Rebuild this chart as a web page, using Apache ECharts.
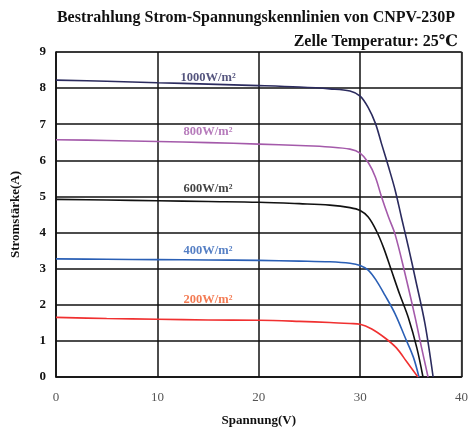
<!DOCTYPE html>
<html><head><meta charset="utf-8">
<script src="https://cdn.jsdelivr.net/npm/echarts@6/dist/echarts.min.js"></script>
<style>html,body{margin:0;padding:0;background:#fff}#c{width:471px;height:435px}</style>
</head><body><div id="c"></div>
<script>
const xTicks = [0, 10, 20, 30, 40];
const yTicks = [0,1,2,3,4,5,6,7,8,9];
const names = ['1000W/m²','800W/m²','600W/m²','400W/m²','200W/m²'];
const colors = ['#2b2b5e','#a45aaa','#111111','#2a5fb5','#f03030'];
const labelColors = ['#2b2b5e','#a45aaa','#111111','#2a5fb5','#f05a28'];
const labelY = [8.3, 6.8, 5.2, 3.5, 2.15];
const v1000 = [0,5,10,15,20,24,27,29,30,30.8,31.5,32.1,32.8,33.45,34.1,34.8,35.45,36.4,37.2];
const i1000 = [8.22,8.19,8.15,8.11,8.07,8.03,7.98,7.92,7.78,7.46,7.03,6.47,5.82,5.18,4.39,3.55,2.72,1.47,0];
const v800 = [0,5,10,15,20,24,27,29,30,30.8,31.5,32.1,32.8,33.45,34.43,35.42,36.07,36.7];
const i800 = [6.57,6.55,6.52,6.49,6.45,6.41,6.37,6.31,6.2,5.94,5.54,5.0,4.43,3.95,2.86,1.66,0.8,0];
const v600 = [0,5,10,15,20,24,27,29,30,30.8,31.6,32.3,33.1,33.9,34.76,35.6,36.2];
const i600 = [4.92,4.9,4.88,4.86,4.84,4.8,4.76,4.69,4.61,4.43,4.05,3.59,2.94,2.29,1.64,0.8,0];
const v400 = [0,5,10,15,20,24,27,29,30,30.8,31.6,32.46,33.45,34.43,35.25,35.8];
const i400 = [3.27,3.26,3.25,3.24,3.23,3.21,3.19,3.15,3.09,2.96,2.67,2.26,1.75,1.1,0.55,0];
const v200 = [0,5,10,15,20,24,27,29,30,31.15,32.46,33.6,34.6,35.7];
const i200 = [1.65,1.62,1.6,1.58,1.57,1.54,1.51,1.48,1.46,1.33,1.08,0.8,0.42,0];
const vs = [v1000,v800,v600,v400,v200];
const is = [i1000,i800,i600,i400,i200];
const serif = '"Liberation Serif","DejaVu Serif",serif';
const chart = echarts.init(document.getElementById('c'));
const series = vs.map((v,k)=>({
  type:'line', name:names[k], smooth:0.35, showSymbol:false, symbol:'none',
  data:v.map((x,j)=>[x,is[k][j]]),
  lineStyle:{color:colors[k],width:1.6}, z:3
}));
series.push({
  type:'scatter', symbolSize:0, silent:true,
  data:names.map((n,k)=>({value:[15,labelY[k]], label:{show:true,formatter:n,color:labelColors[k],fontFamily:serif,fontWeight:'bold',fontSize:12.5,position:'inside'}}))
});
chart.setOption({
  animation:false,
  title:[{text:'Bestrahlung Strom-Spannungskennlinien von CNPV-230P',left:251,top:5,textAlign:'center',textStyle:{fontFamily:serif,fontWeight:'bold',fontSize:16,color:'#111'}},
         {text:'Zelle Temperatur: 25℃',right:8,top:29,textStyle:{fontFamily:serif,fontWeight:'bold',fontSize:16,color:'#111'}}],
  grid:{left:56,right:9,top:52,bottom:58,show:true,borderColor:'#999',borderWidth:1.5},
  xAxis:{type:'value',min:0,max:40,interval:10,
    name:'Spannung(V)',nameLocation:'middle',nameGap:37,nameTextStyle:{fontFamily:serif,fontWeight:'bold',fontSize:13,color:'#111'},
    axisLine:{show:true,lineStyle:{color:'#111',width:1.5}},axisTick:{show:false},
    axisLabel:{margin:14,fontFamily:serif,fontSize:13,color:'#555'},
    splitLine:{show:true,lineStyle:{color:'#111',width:1.5}}},
  yAxis:{type:'value',min:0,max:9,interval:1,
    name:'Stromstärke(A)',nameLocation:'middle',nameGap:34,nameRotate:90,nameTextStyle:{fontFamily:serif,fontWeight:'bold',fontSize:13,color:'#111'},
    axisLine:{show:true,lineStyle:{color:'#111',width:1.5}},axisTick:{show:false},
    axisLabel:{margin:10,fontFamily:serif,fontWeight:'bold',fontSize:13,color:'#111'},
    splitLine:{show:true,lineStyle:{color:'#111',width:1.5}}},
  series:series
});
</script></body></html>
